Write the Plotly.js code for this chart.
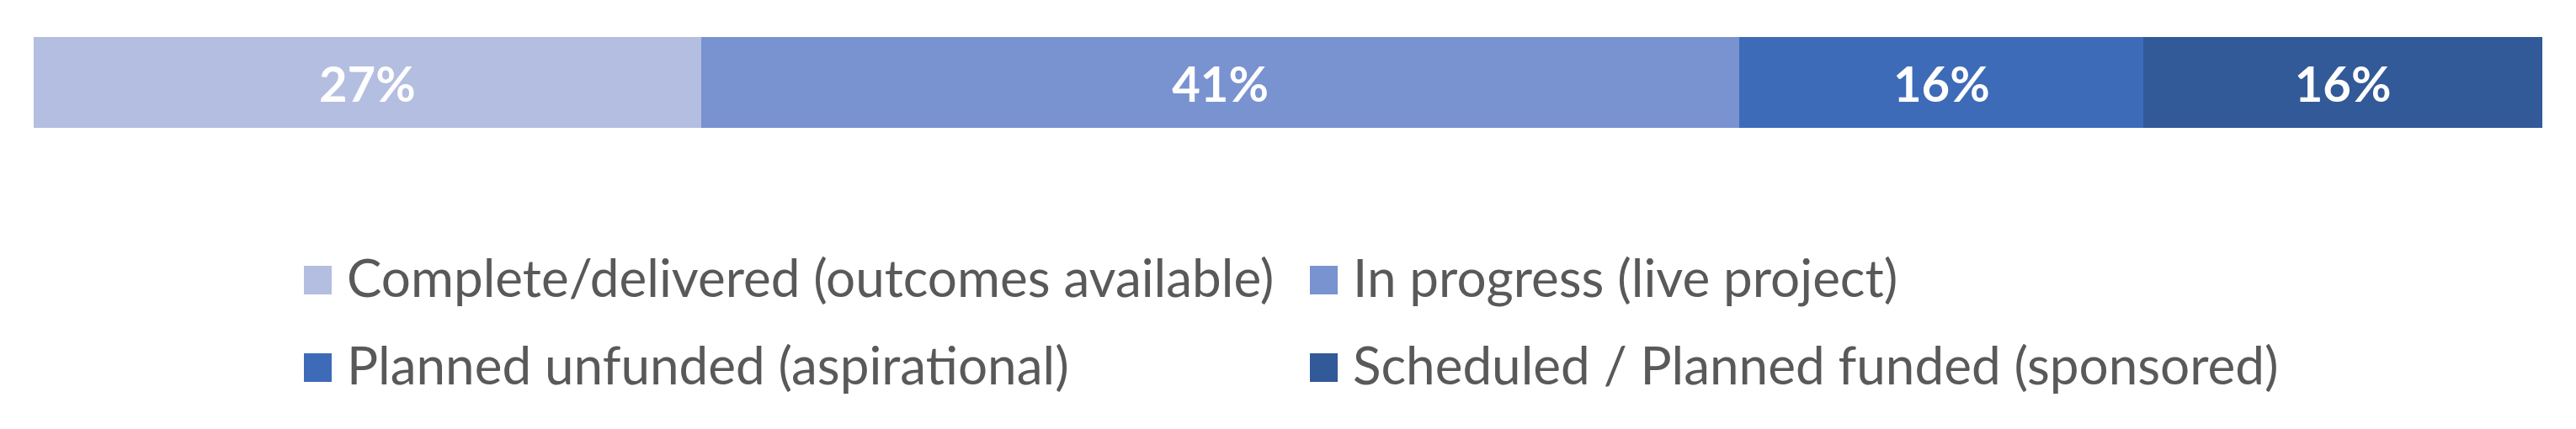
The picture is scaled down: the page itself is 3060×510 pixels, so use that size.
<!DOCTYPE html>
<html>
<head>
<meta charset="utf-8">
<script src="https://cdn.plot.ly/plotly-3.0.1.min.js"></script>
<style>
  html, body { margin: 0; padding: 0; background: #ffffff; }
  #chart { width: 3060px; height: 510px; }
</style>
</head>
<body>
<div id="chart"></div>
<script>
const categories = [
  'Complete/delivered (outcomes available)',
  'In progress (live project)',
  'Planned unfunded (aspirational)',
  'Scheduled / Planned funded (sponsored)'
];
const shares = [26.6, 41.4, 16.1, 15.9];
const colors = ['#B4BEE0', '#7992D0', '#3E6BB8', '#325998'];

const W = 3060, H = 510;
const M = { l: 40, r: 40, t: 44, b: 358 };
const plotW = W - M.l - M.r, plotH = H - M.t - M.b;
const px2x = px => (px - M.l) / plotW;
const py2y = py => (H - M.b - py) / plotH;

const FONT = 'Lato, "Open Sans", "Liberation Sans", sans-serif';

const traces = categories.map((name, i) => ({
  type: 'bar',
  orientation: 'h',
  name: name,
  x: [shares[i]],
  y: [0],
  width: 1,
  marker: { color: colors[i], line: { width: 0 } },
  texttemplate: '%{x:.0f}%',
  textposition: 'inside',
  insidetextanchor: 'middle',
  constraintext: 'none',
  textfont: { family: FONT, size: 58, color: '#ffffff', weight: 'bold' },
  hoverinfo: 'skip',
  showlegend: false
}));

// custom legend (two columns, two rows)
const legendCols = [361, 1556];
const legendRows = [333, 437];
const box = 34;
const shapes = [];
const annotations = [];
categories.forEach((name, i) => {
  const cx = legendCols[i % 2];
  const cy = legendRows[Math.floor(i / 2)];
  shapes.push({
    type: 'rect', xref: 'paper', yref: 'paper',
    x0: px2x(cx), x1: px2x(cx + box - 1),
    y0: py2y(cy - box / 2), y1: py2y(cy + box / 2),
    fillcolor: colors[i], line: { width: 0 }
  });
  annotations.push({
    xref: 'paper', yref: 'paper',
    x: px2x(cx + box + 15), y: py2y(cy - 4),
    xanchor: 'left', yanchor: 'middle',
    text: name, showarrow: false,
    font: { family: FONT, size: 62, color: '#595959' }
  });
});

const layout = {
  width: W, height: H,
  margin: M,
  paper_bgcolor: '#ffffff', plot_bgcolor: '#ffffff',
  barmode: 'stack',
  bargap: 0,
  xaxis: { range: [0, 100], visible: false, fixedrange: true },
  yaxis: { range: [-0.5, 0.5], visible: false, fixedrange: true },
  showlegend: false,
  shapes: shapes,
  annotations: annotations
};

Plotly.newPlot('chart', traces, layout, { displayModeBar: false, staticPlot: true });
</script>
</body>
</html>
